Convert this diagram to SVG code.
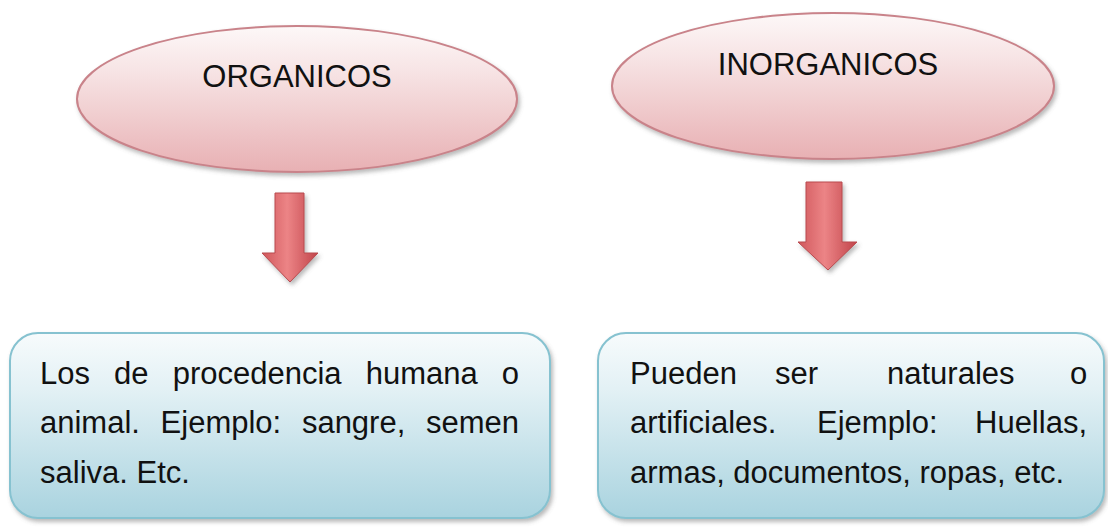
<svg xmlns="http://www.w3.org/2000/svg" width="1108" height="529" viewBox="0 0 1108 529">
<defs>
<linearGradient id="gPink" x1="0" y1="0" x2="0" y2="1">
<stop offset="0" stop-color="#fdf8f8"/>
<stop offset="0.35" stop-color="#f6e1e2"/>
<stop offset="1" stop-color="#e8b0b3"/>
</linearGradient>
<linearGradient id="gBlue" x1="0" y1="0" x2="0" y2="1">
<stop offset="0" stop-color="#f7fbfc"/>
<stop offset="0.3" stop-color="#e3f1f5"/>
<stop offset="1" stop-color="#a9d3df"/>
</linearGradient>
<linearGradient id="gArrow" x1="0" y1="0" x2="1" y2="0">
<stop offset="0" stop-color="#d0575b"/>
<stop offset="0.45" stop-color="#ec8486"/>
<stop offset="1" stop-color="#c1444a"/>
</linearGradient>
<filter id="sh" x="-10%" y="-10%" width="125%" height="130%">
<feDropShadow dx="2" dy="3" stdDeviation="2" flood-color="#666" flood-opacity="0.45"/>
</filter>
</defs>
<style>
.ell{fill:url(#gPink);stroke:#c9838a;stroke-width:2;filter:url(#sh)}
.box{fill:url(#gBlue);stroke:#86c2d0;stroke-width:2;filter:url(#sh)}
.arr{fill:url(#gArrow);stroke:#b94a4f;stroke-width:1;filter:url(#sh)}
.t{font-family:"Liberation Sans",Arial,sans-serif;fill:#111}
.h{font-size:31px}
.b{font-size:31px}
</style>
<rect width="1108" height="529" fill="#ffffff"/>
<g id="organicos">
<ellipse class="ell" cx="297" cy="99" rx="220" ry="73"/>
<text class="t h" x="297" y="87" text-anchor="middle">ORGANICOS</text>
</g>
<g id="inorganicos">
<ellipse class="ell" cx="833" cy="86" rx="221" ry="73"/>
<text class="t h" x="828" y="75" text-anchor="middle">INORGANICOS</text>
</g>
<g id="connectors">
<polygon class="arr" points="275,193 304,193 304,253 318,253 290,282 262,253 275,253"/>
<polygon class="arr" points="806,182 842,182 842,242 857,242 828,270 798,242 806,242"/>
</g>
<g id="organicos-desc">
<rect class="box" x="10" y="333" width="540" height="185" rx="28"/>
<text class="t b" y="384"><tspan x="40">Los</tspan><tspan x="114">de</tspan><tspan x="172.7">procedencia</tspan><tspan x="365.7">humana</tspan><tspan x="501.8">o</tspan></text>
<text class="t b" y="433"><tspan x="40">animal.</tspan><tspan x="160.6">Ejemplo:</tspan><tspan x="301.9">sangre,</tspan><tspan x="426">semen</tspan></text>
<text class="t b" x="40" y="483">saliva. Etc.</text>
</g>
<g id="inorganicos-desc">
<rect class="box" x="598" y="333" width="506" height="185" rx="28"/>
<text class="t b" y="384"><tspan x="630">Pueden</tspan><tspan x="775">ser</tspan><tspan x="887">naturales</tspan><tspan x="1070">o</tspan></text>
<text class="t b" y="433"><tspan x="630">artificiales.</tspan><tspan x="817">Ejemplo:</tspan><tspan x="975">Huellas,</tspan></text>
<text class="t b" x="630" y="483">armas, documentos, ropas, etc.</text>
</g>
</svg>
